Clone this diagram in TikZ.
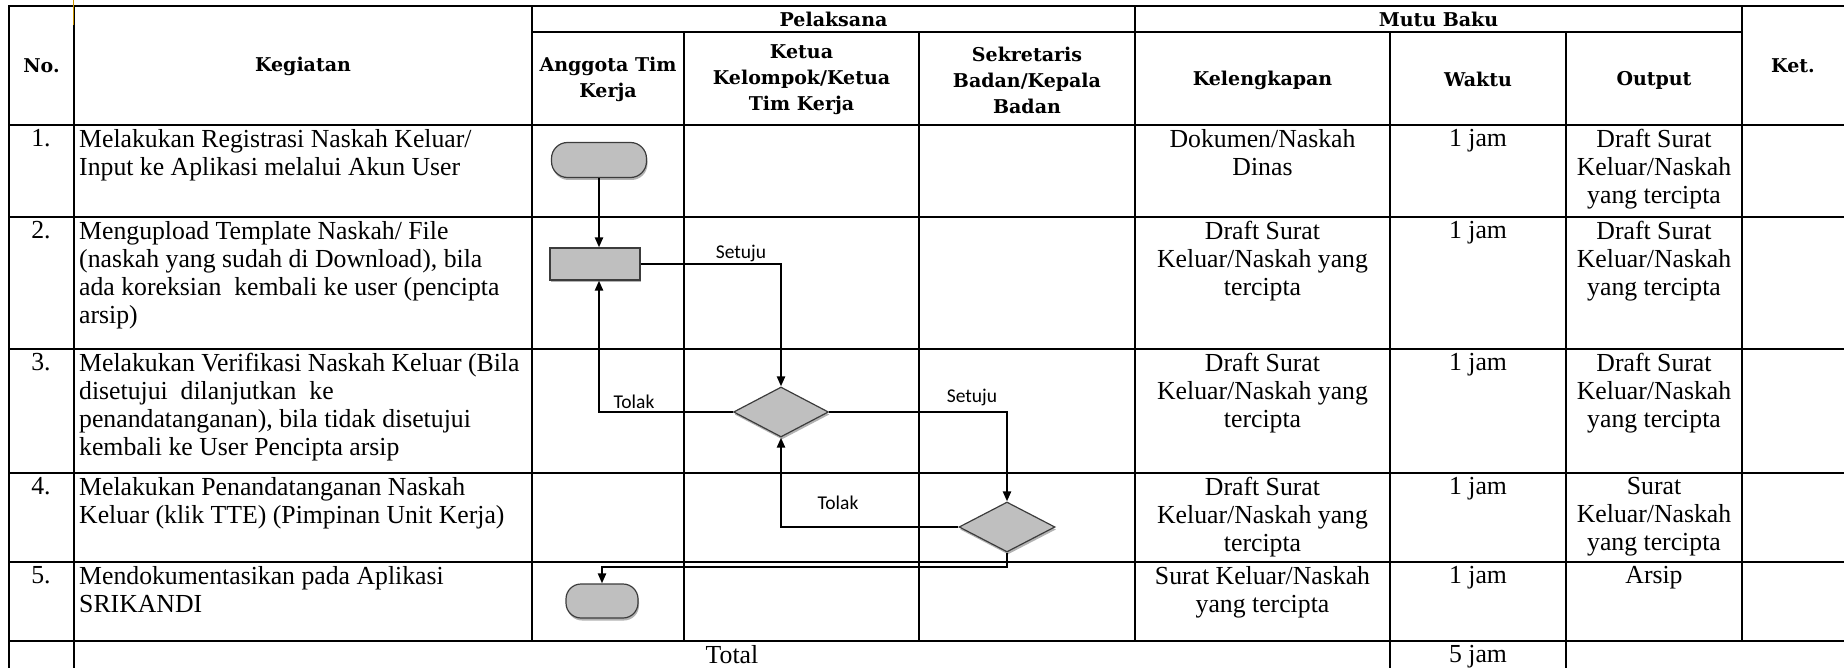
\documentclass[tikz,border=0pt]{standalone}
\usepackage{fontspec}
\setmainfont{Liberation Serif}
\newfontfamily\bodyfnt{Liberation Serif}[FakeStretch=0.99]
\newfontfamily\headfnt{DejaVu Serif}
\newfontfamily\lblfnt{Carlito}
\usetikzlibrary{shapes.geometric,arrows.meta,shadows}
\definecolor{shapefill}{RGB}{191,191,191}
\definecolor{shapeline}{RGB}{60,60,60}
\definecolor{stray}{RGB}{204,150,0}
\tikzset{
  gridline/.style={line width=2.8pt, line cap=rect, black},
  conn/.style={line width=2.2pt, -{Triangle[length=10pt,width=8pt]}},
  flowshape/.style={fill=shapefill, draw=shapeline, line width=1.2pt, inner sep=0pt,
     drop shadow={shadow xshift=1pt, shadow yshift=-2.5pt, opacity=0.3, fill=black}},
  term/.style={flowshape, rectangle, rounded corners=16pt},
  proc/.style={flowshape, rectangle},
  dec/.style={flowshape, diamond},
  head/.style={font=\headfnt\bfseries\fontsize{19}{26}\selectfont, align=center, inner sep=0pt},
  body/.style={font=\bodyfnt\fontsize{26}{28}\selectfont, align=left, inner sep=0pt, anchor=north west},
  cellc/.style={font=\bodyfnt\fontsize{26}{28}\selectfont, align=center, inner sep=0pt, anchor=north},
  lbl/.style={font=\lblfnt\fontsize{19.5}{22}\selectfont, inner sep=0pt},
  strayline/.style={line width=1pt, stray}
}
\begin{document}
\begin{tikzpicture}[x=1pt,y=-1pt]
\useasboundingbox (0,0) rectangle (1844,668);
\clip (0,0) rectangle (1844,668);
% ---------- table grid ----------
\draw[gridline] (9,6) -- (1844,6);
\draw[gridline] (532,32) -- (1742,32);
\foreach \yy in {125,217,349,473,562,641} \draw[gridline] (9,\yy) -- (1844,\yy);
\draw[gridline] (9,6) -- (9,668);
\draw[gridline] (74,6) -- (74,668);
\draw[gridline] (532,6) -- (532,641);
\draw[gridline] (684,32) -- (684,641);
\draw[gridline] (919,32) -- (919,641);
\draw[gridline] (1135,6) -- (1135,641);
\draw[gridline] (1390,32) -- (1390,668);
\draw[gridline] (1566,32) -- (1566,668);
\draw[gridline] (1742,6) -- (1742,641);
\draw[strayline] (73,0) -- (73,25);
% ---------- header ----------
\node[head] (hNo) at (41.5,66) {No.};
\node[head] (hKeg) at (303,66) {Kegiatan};
\node[head] (hPel) at (833.5,19) {Pelaksana};
\node[head] (hAng) at (608,79) {Anggota Tim\\Kerja};
\node[head] (hKet) at (801.5,80) {Ketua\\Kelompok/Ketua\\Tim Kerja};
\node[head] (hSek) at (1027,80) {Sekretaris\\Badan/Kepala\\Badan};
\node[head] (hMutu) at (1438.5,19) {Mutu Baku};
\node[head] (hKel) at (1262.5,80) {Kelengkapan};
\node[head] (hWak) at (1478,79) {Waktu};
\node[head] (hOut) at (1654,80) {Output};
\node[head] (hKetr) at (1793,66) {Ket.};
% ---------- numbers ----------
\node[cellc] (n1) at (41,129) {1.};
\node[cellc] (n2) at (41,221) {2.};
\node[cellc] (n3) at (41,353) {3.};
\node[cellc] (n4) at (41,477) {4.};
\node[cellc] (n5) at (41,566) {5.};
% ---------- kegiatan ----------
\node[body] (k1) at (79,129) {Melakukan Registrasi Naskah Keluar/\\Input ke Aplikasi melalui Akun User};
\node[body] (k2) at (79,221) {Mengupload Template Naskah/ File\\(naskah yang sudah di Download), bila\\ada koreksian\ \ kembali ke user (pencipta\\arsip)};
\node[body] (k3) at (79,353) {Melakukan Verifikasi Naskah Keluar (Bila\\disetujui\ \ dilanjutkan\ \ ke\\penandatanganan), bila tidak disetujui\\kembali ke User Pencipta arsip};
\node[body] (k4) at (79,477) {Melakukan Penandatanganan Naskah\\Keluar (klik TTE) (Pimpinan Unit Kerja)};
\node[body] (k5) at (79,566) {Mendokumentasikan pada Aplikasi\\SRIKANDI};
% ---------- kelengkapan ----------
\node[cellc] (c1) at (1262.5,129) {Dokumen/Naskah\\Dinas};
\node[cellc] (c2) at (1262.5,221) {Draft Surat\\Keluar/Naskah yang\\tercipta};
\node[cellc] (c3) at (1262.5,353) {Draft Surat\\Keluar/Naskah yang\\tercipta};
\node[cellc] (c4) at (1262.5,477) {Draft Surat\\Keluar/Naskah yang\\tercipta};
\node[cellc] (c5) at (1262.5,566) {Surat Keluar/Naskah\\yang tercipta};
% ---------- waktu ----------
\node[cellc] (w1) at (1478,129) {1 jam};
\node[cellc] (w2) at (1478,221) {1 jam};
\node[cellc] (w3) at (1478,353) {1 jam};
\node[cellc] (w4) at (1478,477) {1 jam};
\node[cellc] (w5) at (1478,566) {1 jam};
% ---------- output ----------
\node[cellc] (o1) at (1654,129) {Draft Surat\\Keluar/Naskah\\yang tercipta};
\node[cellc] (o2) at (1654,221) {Draft Surat\\Keluar/Naskah\\yang tercipta};
\node[cellc] (o3) at (1654,353) {Draft Surat\\Keluar/Naskah\\yang tercipta};
\node[cellc] (o4) at (1654,477) {Surat\\Keluar/Naskah\\yang tercipta};
\node[cellc] (o5) at (1654,566) {Arsip};
% ---------- total ----------
\node[cellc] (tot) at (732,645) {Total};
\node[cellc] (totw) at (1478,645) {5 jam};
% ---------- flowchart ----------
\node[term, minimum width=95pt, minimum height=35pt] (T1) at (599,160) {};
\node[proc, minimum width=90pt, minimum height=32pt] (P1) at (595,264) {};
\node[dec, minimum width=95pt, minimum height=50pt] (D1) at (781,412) {};
\node[dec, minimum width=96pt, minimum height=50pt] (D2) at (1007,527) {};
\node[term, rounded corners=15pt, minimum width=72pt, minimum height=34pt] (T2) at (602,601) {};
\coordinate (jog) at (0,567);
\draw[conn] (T1.south) -- (T1.south |- P1.north);
\draw[conn] (P1.east) -| (D1.north);
\draw[conn] (D1.west) -| (T1.south |- P1.south);
\draw[conn] (D1.east) -| (D2.north);
\draw[conn] (D2.west) -| (D1.south);
\draw[conn] (D2.south) -- (D2.south |- jog) -| (T2.north);
\node[lbl] (l1) at (741,253) {Setuju};
\node[lbl] (l2) at (634,402) {Tolak};
\node[lbl] (l3) at (972,397) {Setuju};
\node[lbl] (l4) at (838,503) {Tolak};
\end{tikzpicture}
\end{document}
